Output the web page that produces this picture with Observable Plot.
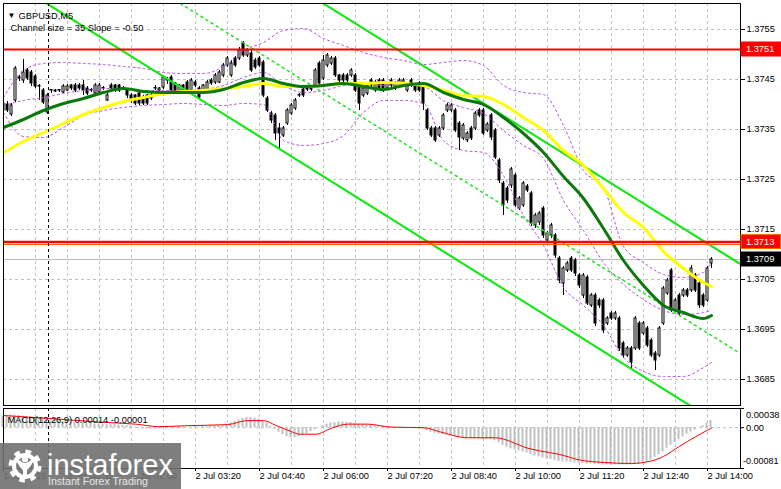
<!DOCTYPE html>
<html><head><meta charset="utf-8">
<script src="https://cdn.jsdelivr.net/npm/d3@7"></script>
<script src="https://cdn.jsdelivr.net/npm/@observablehq/plot@0.6"></script>
<style>
html,body{margin:0;padding:0;background:#fff;}
#chart{position:relative;width:781px;height:489px;overflow:hidden;}
#main,#macd,#logo{position:absolute;left:0;}
#main{top:0;} #macd{top:407px;} #logo{top:443px;}
</style></head><body>
<div id="chart"><div id="main"></div><div id="macd"></div>
<svg id="logo" width="181" height="46" viewBox="0 0 181 46" style="font-family:'Liberation Sans',Arial,sans-serif">
 <rect width="181" height="46" fill="rgb(112,112,112)" fill-opacity="0.9"/>
 <g transform="translate(25,23)" fill="none" stroke="#fff">
  <circle r="13.5" stroke-width="6" stroke-dasharray="5.3 5.3"/>
  <circle r="11" stroke-width="4"/>
 </g>
 <g fill="#fff">
  <circle cx="25" cy="16" r="3.2"/>
  <path d="M16 13 Q25 27 34 13 L34 17 Q30 25 27 27 L27 36 L23 36 L23 27 Q20 25 16 17Z"/>
 </g>
 <text x="47" y="32" font-size="29" fill="#fff" textLength="126" lengthAdjust="spacingAndGlyphs">instaforex</text>
 <text x="48" y="42" font-size="11" fill="#e8e8e8" textLength="100" lengthAdjust="spacingAndGlyphs">Instant Forex Trading</text>
</svg>
</div>
<script>
// ---------- DATA ----------
const open = [1.37402,1.37400,1.37380,1.37408,1.37454,1.37448,1.37468,1.37464,1.37456,1.37436,
1.37428,1.37384,1.37428,1.37426,1.37428,1.37424,1.37428,1.37438,1.37438,1.37438,
1.37438,1.37432,1.37428,1.37422,1.37424,1.37432,1.37408,1.37438,1.37438,1.37438,
1.37432,1.37428,1.37418,1.37418,1.37422,1.37414,1.37418,1.37412,1.37432,1.37428,
1.37434,1.37448,1.37454,1.37442,1.37424,1.37438,1.37444,1.37428,1.37444,1.37432,
1.37428,1.37428,1.37448,1.37444,1.37444,1.37458,1.37478,1.37458,1.37492,1.37492,
1.37522,1.37498,1.37502,1.37488,1.37492,1.37484,1.37412,1.37382,1.37378,1.37352,
1.37338,1.37362,1.37382,1.37392,1.37418,1.37430,1.37430,1.37430,1.37438,1.37482,
1.37452,1.37478,1.37482,1.37492,1.37458,1.37458,1.37458,1.37458,1.37458,1.37438,
1.37418,1.37422,1.37448,1.37428,1.37448,1.37448,1.37432,1.37448,1.37432,1.37438,
1.37442,1.37428,1.37448,1.37438,1.37442,1.37438,1.37388,1.37352,1.37352,1.37338,
1.37352,1.37388,1.37388,1.37388,1.37362,1.37332,1.37328,1.37352,1.37352,1.37388,
1.37388,1.37348,1.37378,1.37348,1.37288,1.37242,1.37232,1.37238,1.37258,1.37192,
1.37198,1.37236,1.37222,1.37158,1.37164,1.37192,1.37128,1.37138,1.37138,1.37092,
1.37042,1.37068,1.37092,1.37088,1.37058,1.37018,1.37054,1.36998,1.37018,1.37008,
1.37008,1.36962,1.36982,1.36972,1.36972,1.36922,1.36898,1.36912,1.36912,1.36962,
1.36942,1.36952,1.36928,1.36902,1.36898,1.36962,1.37022,1.37068,1.36988,1.37018,
1.37018,1.37028,1.37028,1.37058,1.37042,1.37018,1.37008,1.37082];
const high = [1.37408,1.37406,1.37402,1.37476,1.37458,1.37490,1.37472,1.37468,1.37460,1.37440,
1.37432,1.37422,1.37430,1.37430,1.37430,1.37440,1.37440,1.37440,1.37442,1.37442,
1.37448,1.37436,1.37432,1.37442,1.37442,1.37436,1.37422,1.37442,1.37440,1.37440,
1.37436,1.37432,1.37422,1.37420,1.37424,1.37418,1.37420,1.37422,1.37438,1.37434,
1.37458,1.37454,1.37458,1.37444,1.37440,1.37440,1.37448,1.37452,1.37448,1.37436,
1.37440,1.37448,1.37452,1.37462,1.37468,1.37482,1.37496,1.37488,1.37496,1.37514,
1.37526,1.37512,1.37508,1.37492,1.37496,1.37488,1.37416,1.37386,1.37382,1.37362,
1.37356,1.37392,1.37402,1.37412,1.37422,1.37432,1.37432,1.37434,1.37472,1.37486,
1.37498,1.37502,1.37496,1.37496,1.37460,1.37462,1.37462,1.37472,1.37462,1.37442,
1.37436,1.37442,1.37452,1.37448,1.37452,1.37452,1.37446,1.37452,1.37446,1.37452,
1.37452,1.37442,1.37452,1.37442,1.37446,1.37442,1.37392,1.37356,1.37356,1.37356,
1.37382,1.37402,1.37402,1.37392,1.37366,1.37362,1.37346,1.37356,1.37386,1.37392,
1.37392,1.37364,1.37382,1.37352,1.37292,1.37246,1.37236,1.37274,1.37262,1.37216,
1.37246,1.37240,1.37226,1.37182,1.37186,1.37196,1.37146,1.37162,1.37142,1.37096,
1.37076,1.37086,1.37096,1.37092,1.37062,1.37062,1.37058,1.37022,1.37022,1.37012,
1.37012,1.36976,1.36986,1.36986,1.36976,1.36926,1.36916,1.36916,1.36976,1.36966,
1.36966,1.36956,1.36932,1.36906,1.36956,1.37036,1.37052,1.37072,1.37012,1.37022,
1.37032,1.37032,1.37078,1.37062,1.37046,1.37022,1.37076,1.37094];
const low = [1.37384,1.37384,1.37376,1.37404,1.37446,1.37442,1.37448,1.37436,1.37432,1.37408,
1.37400,1.37380,1.37422,1.37424,1.37424,1.37422,1.37426,1.37428,1.37424,1.37428,
1.37418,1.37418,1.37424,1.37418,1.37422,1.37428,1.37406,1.37428,1.37424,1.37424,
1.37428,1.37412,1.37402,1.37398,1.37398,1.37398,1.37398,1.37408,1.37428,1.37424,
1.37430,1.37440,1.37424,1.37420,1.37422,1.37426,1.37420,1.37426,1.37434,1.37410,
1.37424,1.37426,1.37438,1.37440,1.37442,1.37454,1.37474,1.37454,1.37474,1.37488,
1.37494,1.37494,1.37464,1.37470,1.37474,1.37414,1.37384,1.37362,1.37328,1.37308,
1.37334,1.37358,1.37378,1.37388,1.37414,1.37414,1.37426,1.37426,1.37434,1.37438,
1.37448,1.37474,1.37478,1.37454,1.37442,1.37444,1.37444,1.37454,1.37424,1.37388,
1.37414,1.37418,1.37434,1.37424,1.37428,1.37424,1.37428,1.37434,1.37428,1.37434,
1.37438,1.37424,1.37434,1.37424,1.37424,1.37388,1.37348,1.37334,1.37324,1.37334,
1.37348,1.37384,1.37384,1.37344,1.37308,1.37328,1.37324,1.37328,1.37348,1.37374,
1.37338,1.37344,1.37328,1.37290,1.37242,1.37178,1.37202,1.37232,1.37194,1.37188,
1.37194,1.37224,1.37156,1.37152,1.37158,1.37132,1.37122,1.37132,1.37092,1.37042,
1.37018,1.37064,1.37064,1.37056,1.37032,1.37012,1.36998,1.36994,1.36956,1.36992,
1.36942,1.36958,1.36968,1.36968,1.36906,1.36892,1.36894,1.36868,1.36908,1.36908,
1.36938,1.36914,1.36894,1.36868,1.36894,1.36958,1.37018,1.36984,1.36984,1.36978,
1.37014,1.37014,1.37024,1.37024,1.36992,1.36994,1.37004,1.37072];
const close = [1.37388,1.37388,1.37398,1.37472,1.37452,1.37464,1.37452,1.37442,1.37436,1.37436,
1.37404,1.37418,1.37428,1.37428,1.37428,1.37436,1.37436,1.37432,1.37428,1.37432,
1.37428,1.37422,1.37428,1.37438,1.37438,1.37432,1.37418,1.37432,1.37428,1.37428,
1.37432,1.37418,1.37408,1.37402,1.37402,1.37402,1.37402,1.37418,1.37432,1.37432,
1.37454,1.37448,1.37428,1.37424,1.37438,1.37428,1.37424,1.37448,1.37438,1.37414,
1.37438,1.37444,1.37442,1.37458,1.37464,1.37478,1.37492,1.37482,1.37478,1.37508,
1.37498,1.37508,1.37468,1.37474,1.37478,1.37418,1.37388,1.37368,1.37342,1.37342,
1.37352,1.37388,1.37398,1.37408,1.37418,1.37418,1.37430,1.37430,1.37468,1.37442,
1.37488,1.37498,1.37492,1.37458,1.37448,1.37448,1.37448,1.37468,1.37428,1.37402,
1.37432,1.37438,1.37438,1.37444,1.37432,1.37428,1.37442,1.37438,1.37442,1.37448,
1.37448,1.37438,1.37438,1.37428,1.37428,1.37402,1.37352,1.37338,1.37328,1.37352,
1.37378,1.37398,1.37398,1.37348,1.37334,1.37358,1.37342,1.37332,1.37382,1.37378,
1.37342,1.37360,1.37334,1.37294,1.37248,1.37198,1.37208,1.37270,1.37198,1.37212,
1.37242,1.37228,1.37162,1.37178,1.37182,1.37138,1.37142,1.37158,1.37098,1.37048,
1.37072,1.37082,1.37068,1.37062,1.37038,1.37058,1.37002,1.37018,1.36962,1.36998,
1.36948,1.36972,1.36972,1.36982,1.36912,1.36898,1.36912,1.36884,1.36972,1.36912,
1.36962,1.36918,1.36898,1.36888,1.36952,1.37032,1.37048,1.36988,1.37008,1.36982,
1.37028,1.37018,1.37072,1.37028,1.36998,1.36998,1.37072,1.37090];

// indicator lines, sampled at these bars
const maBars = [0,5,10,15,20,25,30,35,40,45,50,55,60,65,70,75,80,85,90,95,100,105,110,115,120,125,130,135,140,145,150,155,160,165,170,175,177];
const yellowMA = [1.37304,1.37326,1.37344,1.37362,1.37380,1.37394,1.37406,1.37414,1.37422,1.37426,1.37428,1.37432,1.37436,1.37442,1.37436,1.37436,1.37438,1.37442,1.37442,1.37444,1.37442,1.37438,1.37428,1.37418,1.37416,1.37400,1.37374,1.37348,1.37308,1.37278,1.37232,1.37184,1.37154,1.37106,1.37072,1.37044,1.37036];
const greenMA = [1.37354,1.37370,1.37388,1.37402,1.37412,1.37424,1.37432,1.37426,1.37424,1.37424,1.37424,1.37430,1.37444,1.37452,1.37442,1.37436,1.37438,1.37442,1.37436,1.37430,1.37438,1.37442,1.37424,1.37410,1.37400,1.37374,1.37342,1.37304,1.37256,1.37212,1.37152,1.37088,1.37038,1.36998,1.36984,1.36972,1.36978];
const bbUpper = [1.37414,1.37468,1.37482,1.37484,1.37482,1.37480,1.37476,1.37472,1.37464,1.37462,1.37462,1.37476,1.37508,1.37524,1.37548,1.37552,1.37532,1.37518,1.37504,1.37494,1.37488,1.37480,1.37484,1.37488,1.37478,1.37438,1.37424,1.37420,1.37358,1.37268,1.37234,1.37116,1.37084,1.37060,1.37054,1.37064,1.37084];
const bbMiddle = [1.37398,1.37408,1.37414,1.37422,1.37428,1.37432,1.37432,1.37428,1.37428,1.37428,1.37430,1.37438,1.37454,1.37464,1.37438,1.37424,1.37428,1.37438,1.37442,1.37438,1.37440,1.37436,1.37408,1.37394,1.37382,1.37348,1.37318,1.37292,1.37208,1.37148,1.37084,1.37040,1.37010,1.36988,1.36980,1.36984,1.36988];
const bbLower = [1.37384,1.37336,1.37334,1.37354,1.37378,1.37388,1.37394,1.37398,1.37400,1.37402,1.37400,1.37398,1.37402,1.37400,1.37328,1.37318,1.37322,1.37338,1.37384,1.37408,1.37408,1.37402,1.37328,1.37308,1.37304,1.37258,1.37178,1.37118,1.37034,1.36998,1.36958,1.36894,1.36866,1.36856,1.36856,1.36874,1.36884];

// regression channel (bar, price) end points
const channelUpper = [[79, 1.37607], [184, 1.37082]];
const channelMiddle = [[43, 1.37608], [184, 1.36903]];
const channelLower = [[10, 1.37606], [184, 1.36736]];

const levelPrices = [1.3751, 1.37125];
const levelLabels = ["1.3751", "1.3713"];
const levelLowerPrice = 1.3712;
const currentPrice = 1.3709;
const currentLabel = "1.3709";
const crosshairBar = 11.25;

const priceTicks = [1.3755, 1.3745, 1.3735, 1.3725, 1.3715, 1.3705, 1.3695, 1.3685];
const timeTickBars = [0,16,32,48,64,80,96,112,128,144,160,176];
const timeTickLabels = ["1 Jul 2025","2 Jul 00:35","2 Jul 02:00","2 Jul 03:20","2 Jul 04:40","2 Jul 06:00","2 Jul 07:20","2 Jul 08:40","2 Jul 10:00","2 Jul 11:20","2 Jul 12:40","2 Jul 14:00"];

// MACD(12,26,9)
const macdHist = [0.00022,0.00024,0.00025,0.00025,0.00024,0.00023,0.00022,0.00021,0.00020,0.00019,0.00018,
0.00016,0.00015,0.00014,0.00013,0.00012,0.00011,0.00011,0.00010,0.00009,0.00009,
0.00008,0.00008,0.00007,0.00007,0.00007,0.00006,0.00006,0.00006,0.00005,0.00005,0.00004,0.00003,
0.00001,-0.00001,-0.00002,-0.00003,-0.00003,-0.00002,-0.00001,
0.00000,0.00001,0.00001,0.00001,0.00002,0.00001,0.00001,0.00001,0.00002,0.00001,0.00002,0.00002,0.00003,0.00003,0.00004,0.00005,0.00007,
0.00009,0.00012,0.00015,0.00018,0.00020,
0.00020,0.00019,0.00017,0.00014,
0.00009,0.00003,-0.00003,
-0.00009,-0.00014,-0.00018,-0.00020,
-0.00020,-0.00018,-0.00015,-0.00012,-0.00008,
-0.00004,0.00000,0.00004,
0.00007,0.00009,0.00010,0.00011,0.00011,0.00010,0.00010,
0.00008,0.00007,0.00006,0.00005,0.00005,0.00004,0.00003,0.00003,0.00002,
0.00002,0.00001,0.00001,0.00001,0.00000,0.00000,0.00000,0.00000,
-0.00003,-0.00006,-0.00009,-0.00011,-0.00013,-0.00014,-0.00015,-0.00016,-0.00018,
-0.00020,-0.00021,-0.00022,-0.00022,-0.00022,-0.00023,-0.00023,-0.00023,-0.00024,
-0.00026,-0.00030,-0.00035,-0.00039,
-0.00042,-0.00044,-0.00046,-0.00048,-0.00050,-0.00053,
-0.00056,-0.00058,-0.00060,-0.00062,-0.00063,-0.00065,
-0.00067,-0.00068,-0.00068,-0.00069,-0.00070,-0.00070,-0.00071,-0.00072,
-0.00072,-0.00073,-0.00073,-0.00074,-0.00074,-0.00074,-0.00074,-0.00074,-0.00074,-0.00074,
-0.00074,-0.00073,-0.00072,-0.00070,-0.00068,
-0.00064,-0.00059,-0.00054,-0.00048,-0.00041,-0.00035,
-0.00029,-0.00024,-0.00018,-0.00013,-0.00009,-0.00005,
0.00000,0.00004,0.00009,0.00014];
const signalBars = [0,12,24,33,39,46,56,61,65,68,72,74,78,82,86,91,97,105,109,116,123,127,130,134,139,144,150,157,162,165,169,173,176,177];
const signalValues = [0.00024,0.00018,0.00011,0.00007,0.00002,0.00004,0.00006,0.00014,0.00014,0.00005,-0.00008,-0.00013,-0.00013,-0.00001,0.00007,0.00007,0.00001,0.00000,-0.00008,-0.00020,-0.00020,-0.00028,-0.00038,-0.00046,-0.00053,-0.00064,-0.00069,-0.00071,-0.00066,-0.00057,-0.00037,-0.00018,-0.00005,-0.00001];
const macdTitle = "MACD(12,26,9) 0.00014 -0.00001";
const macdScaleValues = [0.00038, 0, -0.00081];
const macdScaleLabels = ["0.00038", "0.00", "-0.00081"];

// ---------- BUILD ----------
const FONT = "'Liberation Sans', 'DejaVu Sans', Arial, sans-serif";
const candles = open.map((o, i) => ({i, open: o, high: high[i], low: low[i], close: close[i]}));
const upC = candles.filter(d => d.close > d.open);
const dnC = candles.filter(d => d.close <= d.open);
const series = arr => maBars.map((b, k) => ({i: b, v: arr[k]}));
const seg = pts => pts.map(([i, v]) => ({i, v}));
const gridBars = d3.range(8, 184, 8);
const bodyTop = d => d.close === d.open ? d.close + 0.00001 : d.close;
const LIME = "#19e619", ORCHID = "#b44ee0", GRID = "#c0c0c0";

function tag(p, label, fill, stroke) {
  return [
    Plot.rect([p], {x1: () => 184.5, x2: () => 194.4, y1: d => d - 0.00014, y2: d => d + 0.00014, fill, stroke: stroke || fill}),
    Plot.text([p], {x: () => 185.6, y: d => d, text: () => label, fill: "white", textAnchor: "start"})
  ];
}

const main = Plot.plot({
  width: 781, height: 407,
  marginLeft: 3, marginRight: 41, marginTop: 3, marginBottom: 2,
  style: {fontFamily: FONT, fontSize: "9.3px", background: "transparent", overflow: "visible", color: "black"},
  x: {domain: [0, 184.25], axis: null},
  y: {domain: [1.36798, 1.37602], axis: "right", ticks: priceTicks, tickFormat: d3.format(".4f"), tickSize: 4, tickPadding: 2, label: null},
  marks: [
    Plot.ruleX(gridBars, {x: d => d, stroke: GRID, strokeDasharray: "3,3"}),
    Plot.ruleY(priceTicks, {y: d => d, stroke: GRID, strokeDasharray: "3,3"}),
    Plot.ruleY([currentPrice], {y: d => d, stroke: GRID}),
    Plot.ruleX(candles, {x: "i", y1: "low", y2: "high", stroke: "black", clip: true}),
    Plot.rect(dnC, {x1: d => d.i - 0.5, x2: d => d.i + 0.5, y1: "open", y2: bodyTop, insetLeft: 1, insetRight: 1, fill: "black", stroke: "black", clip: true}),
    Plot.rect(upC, {x1: d => d.i - 0.5, x2: d => d.i + 0.5, y1: "open", y2: "close", insetLeft: 1, insetRight: 1, fill: "white", stroke: "black", clip: true}),
    Plot.line(series(bbUpper), {x: "i", y: "v", stroke: ORCHID, strokeWidth: 1, strokeDasharray: "2,3", curve: "monotone-x", clip: true}),
    Plot.line(series(bbMiddle), {x: "i", y: "v", stroke: ORCHID, strokeWidth: 1, strokeDasharray: "2,3", curve: "monotone-x", clip: true}),
    Plot.line(series(bbLower), {x: "i", y: "v", stroke: ORCHID, strokeWidth: 1, strokeDasharray: "2,3", curve: "monotone-x", clip: true}),
    Plot.line(seg(channelMiddle), {x: "i", y: "v", stroke: LIME, strokeDasharray: "2,4", clip: true}),
    Plot.line(seg(channelUpper), {x: "i", y: "v", stroke: LIME, strokeWidth: 2.2, clip: true}),
    Plot.line(seg(channelLower), {x: "i", y: "v", stroke: LIME, strokeWidth: 2.2, clip: true}),
    Plot.line(series(yellowMA), {x: "i", y: "v", stroke: "#ffff00", strokeWidth: 3, curve: "monotone-x", clip: true}),
    Plot.line(series(greenMA), {x: "i", y: "v", stroke: "#0a780a", strokeWidth: 3, curve: "monotone-x", clip: true}),
    Plot.ruleY([levelPrices[0]], {y: d => d, stroke: "#ff0000", strokeWidth: 2}),
    Plot.ruleY([levelLowerPrice], {y: d => d, stroke: "#ff6a00", strokeWidth: 1}),
    Plot.ruleY([levelPrices[1]], {y: d => d, stroke: "#ff0000", strokeWidth: 2.5}),
    Plot.ruleX([crosshairBar], {x: d => d, stroke: "black", strokeDasharray: "3,3"}),
    Plot.frame({stroke: "black"}),
    ...tag(levelPrices[0], levelLabels[0], "#ff0000"),
    ...tag(levelPrices[1], levelLabels[1], "#ff0000", "#ff7000"),
    ...tag(currentPrice, currentLabel, "black"),
    Plot.text(["\u25BC"], {frameAnchor: "top-left", dx: 4, dy: 9, text: d => d, fontSize: 8, textAnchor: "start"}),
    Plot.text(["GBPUSD,M5"], {frameAnchor: "top-left", dx: 15, dy: 9, text: d => d, textAnchor: "start"}),
    Plot.text(["Channel size = 35 Slope = -0.50"], {frameAnchor: "top-left", dx: 7, dy: 21, text: d => d, textAnchor: "start"})
  ]
});
document.getElementById("main").appendChild(main);

const histData = macdHist.map((v, i) => ({i, v}));
const sigData = signalBars.map((b, k) => ({i: b, v: signalValues[k]}));
const macdDy = [6.5, 0.5, -7];
const macdDx = [0, 0, -3];

const macd = Plot.plot({
  width: 781, height: 82,
  marginLeft: 3, marginRight: 41, marginTop: 1, marginBottom: 21,
  style: {fontFamily: FONT, fontSize: "9.3px", background: "transparent", overflow: "visible", color: "black"},
  x: {domain: [0, 184.25], axis: null},
  y: {domain: [-0.00081, 0.00038], axis: null},
  marks: [
    Plot.ruleX(gridBars, {x: d => d, stroke: GRID, strokeDasharray: "3,3"}),
    Plot.ruleY([0], {y: d => d, stroke: GRID, strokeDasharray: "3,3"}),
    Plot.rect(histData, {x1: d => d.i - 0.5, x2: d => d.i + 0.5, y1: () => 0, y2: "v", insetLeft: 0.5, insetRight: 1.5, fill: GRID}),
    Plot.line(sigData, {x: "i", y: "v", stroke: "#ff0000", strokeWidth: 1, curve: "monotone-x"}),
    Plot.ruleX([crosshairBar], {x: d => d, stroke: "black", strokeDasharray: "3,3"}),
    Plot.frame({stroke: "black"}),
    Plot.ruleY(macdScaleValues, {y: d => d, x1: () => 184.25, x2: () => 185.25, stroke: "black"}),
    ...macdScaleValues.map((v, k) => Plot.text([v], {x: () => 185.6, y: d => d, text: () => macdScaleLabels[k], textAnchor: "start", dy: macdDy[k], dx: macdDx[k], fontSize: k === 2 ? 9 : 9.3})),
    Plot.text([macdTitle], {frameAnchor: "top-left", dx: 4, dy: 8, text: d => d, textAnchor: "start"}),
    Plot.ruleX(timeTickBars, {x: d => d, y1: () => -0.00081, y2: () => -0.00087, stroke: "black"}),
    Plot.text(timeTickBars, {x: d => d, frameAnchor: "bottom", dy: 10, text: (d, i) => timeTickLabels[i], textAnchor: "start"})
  ]
});
document.getElementById("macd").appendChild(macd);
</script>
</body></html>
